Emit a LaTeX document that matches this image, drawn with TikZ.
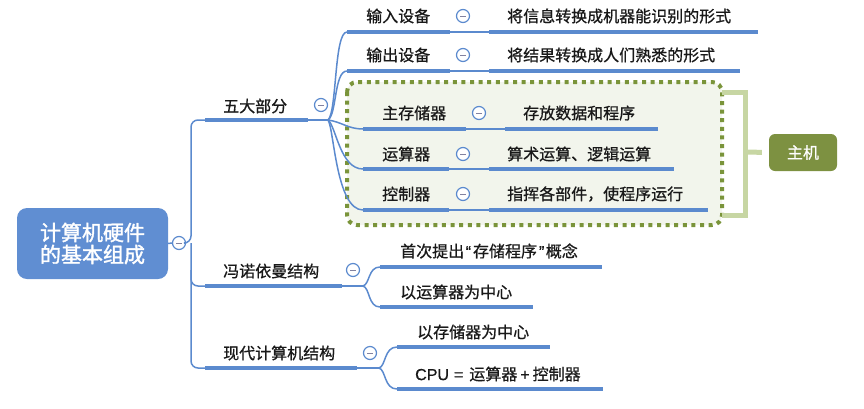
\documentclass[tikz,border=0pt]{standalone}
\usepackage{fontspec}
\setmainfont{Noto Sans CJK SC}[RawFeature={embolden=0.8}]
\newfontfamily\latinfont{Liberation Sans}[RawFeature={embolden=0.8}]
\newfontfamily\rootfont{Noto Sans CJK SC}[RawFeature={embolden=1.6}]
\usetikzlibrary{calc}
\definecolor{lineblue}{RGB}{91,138,206}
\definecolor{rootblue}{RGB}{96,142,210}
\definecolor{dotgreen}{RGB}{122,148,58}
\definecolor{boxfill}{RGB}{242,245,236}
\definecolor{brgreen}{RGB}{199,214,163}
\definecolor{hostgreen}{RGB}{125,145,65}
\definecolor{txtc}{RGB}{25,25,25}
\definecolor{minusc}{RGB}{130,130,160}
\tikzset{
  txt/.style={anchor=west,inner sep=0pt,text=txtc,font=\fontsize{16}{19}\selectfont},
  uline/.style={draw=lineblue,line width=4pt},
  conn/.style={draw=lineblue,line width=1.5pt},
  fold/.style={circle,draw=lineblue,line width=1.2pt,fill=white,minimum size=13pt,inner sep=0pt,
    path picture={\draw[minusc,line width=1pt] ($(path picture bounding box.center)+(-3pt,0)$) -- ($(path picture bounding box.center)+(3pt,0)$);}},
}
\begin{document}
\begin{tikzpicture}[x=1pt,y=-1pt]
\useasboundingbox (0,0) rectangle (864,408);
% green dotted box
\draw[dotgreen,fill=boxfill,line width=4pt,dash pattern=on 4pt off 4.6pt,rounded corners=10pt] (347,82) rectangle (722,225);
% bracket
\draw[brgreen,line width=5pt] (722,92) -- (745,92) -- (745,215) -- (722,215);
\node[fill=hostgreen,rounded corners=6pt,minimum width=68pt,minimum height=37pt,inner sep=0pt,text=white,font=\fontsize{16}{19}\selectfont] (host) at (803,152.5) {主机};
\coordinate (brmid) at (745,152);
\draw[brgreen,line width=5pt,shorten >=7pt] (brmid) -- (host.west);
% root
\node[fill=rootblue,rounded corners=10pt,minimum width=151pt,minimum height=71pt,inner sep=0pt,text=white,align=center,font=\rootfont\fontsize{21}{22}\selectfont] (root) at (92.5,243.5) {计算机硬件\\的基本组成};
\node[fold] (rootfold) at (179,243) {};
% trunk
\coordinate (t1) at (205,120);
\coordinate (t2) at (205,286);
\coordinate (t3) at (205,368);
\draw[conn] (root.east) -- (rootfold.west);
\draw[conn,rounded corners=7pt] (rootfold.east) -- (191,243) |- (t1);
\draw[conn,rounded corners=7pt] (191,243) |- (t3);
\draw[conn,rounded corners=7pt] (191,270) |- (t2);
% ---- five parts
\node[txt] (p5) at (223,106) {五大部分};
\draw[uline] (t1) -- (308,120) coordinate (p5r);
\node[fold] at (321,105) {};
\coordinate (p5c) at (328,120);
\draw[conn] (p5r) -- (p5c);
% children underlines
\draw[uline] (347,32) coordinate (a1l) -- (450,32) coordinate (a1r);
\draw[uline] (347,71) coordinate (a2l) -- (450,71) coordinate (a2r);
\draw[uline] (363,129) coordinate (a3l) -- (466,129) coordinate (a3r);
\draw[uline] (363,169) coordinate (a4l) -- (449,169) coordinate (a4r);
\draw[uline] (363,210) coordinate (a5l) -- (449,210) coordinate (a5r);
\draw[conn] (p5c) .. controls (337,112) and (334,32) .. (a1l);
\draw[conn] (p5c) .. controls (337,114) and (334,71) .. (a2l);
\draw[conn] (p5c) .. controls (342,122) and (348,129) .. (a3l);
\draw[conn] (p5c) .. controls (336,126) and (340,169) .. (a4l);
\draw[conn] (p5c) .. controls (334,128) and (336,210) .. (a5l);
\node[txt] (a1) at (366,16) {输入设备};
\node[txt] (a2) at (366,55) {输出设备};
\node[txt] (a3) at (382,113) {主存储器};
\node[txt] (a4) at (382,154) {运算器};
\node[txt] (a5) at (382,194) {控制器};
\node[fold] at (463,16) {};
\node[fold] at (463,55) {};
\node[fold] at (479,113) {};
\node[fold] at (463,154) {};
\node[fold] at (463,194) {};
% descriptions
\draw[uline] (489,32) coordinate (d1l) -- (758,32);
\draw[uline] (489,71) coordinate (d2l) -- (740,71);
\draw[uline] (505,129) coordinate (d3l) -- (658,129);
\draw[uline] (489,169) coordinate (d4l) -- (674,169);
\draw[uline] (489,210) coordinate (d5l) -- (708,210);
\draw[conn] (a1r) -- (d1l);
\draw[conn] (a2r) -- (d2l);
\draw[conn] (a3r) -- (d3l);
\draw[conn] (a4r) -- (d4l);
\draw[conn] (a5r) -- (d5l);
\node[txt] (d1) at (507,16) {将信息转换成机器能识别的形式};
\node[txt] (d2) at (507,55) {将结果转换成人们熟悉的形式};
\node[txt] (d3) at (523,113) {存放数据和程序};
\node[txt] (d4) at (507,154) {算术运算、逻辑运算};
\node[txt] (d5) at (507,194) {指挥各部件，使程序运行};
% ---- von Neumann
\node[txt] (vn) at (223,271) {冯诺依曼结构};
\draw[uline] (t2) -- (342,286) coordinate (vnr);
\node[fold] at (353,270) {};
\coordinate (vnc) at (363,286);
\draw[conn] (vnr) -- (vnc);
\draw[uline] (380,267) coordinate (v1l) -- (602,267);
\draw[uline] (380,307) coordinate (v2l) -- (533,307);
\draw[conn] (vnc) .. controls (370,284) and (368,267) .. (v1l);
\draw[conn] (vnc) .. controls (370,288) and (368,307) .. (v2l);
\node[txt] (v1) at (400,251) {首次提出{\latinfont\hspace{1.5pt}“\hspace{2pt}}存储程序{\latinfont\hspace{2pt}”\hspace{1.5pt}}概念};
\node[txt] (v2) at (400,292) {以运算器为中心};
% ---- modern
\node[txt] (md) at (223,353) {现代计算机结构};
\draw[uline] (t3) -- (357,368) coordinate (mdr);
\node[fold] at (370,353) {};
\coordinate (mdc) at (379,368);
\draw[conn] (mdr) -- (mdc);
\draw[uline] (397,347) coordinate (m1l) -- (550,347);
\draw[uline] (397,389) coordinate (m2l) -- (603,389);
\draw[conn] (mdc) .. controls (386,366) and (384,347) .. (m1l);
\draw[conn] (mdc) .. controls (386,370) and (384,389) .. (m2l);
\node[txt] (m1) at (417,332) {以存储器为中心};
\node[txt] (m2) at (415,374) {{\latinfont CPU\hspace{5pt}=\hspace{6pt}}运算器{\latinfont\hspace{3pt}+\hspace{3pt}}控制器};
\end{tikzpicture}
\end{document}
